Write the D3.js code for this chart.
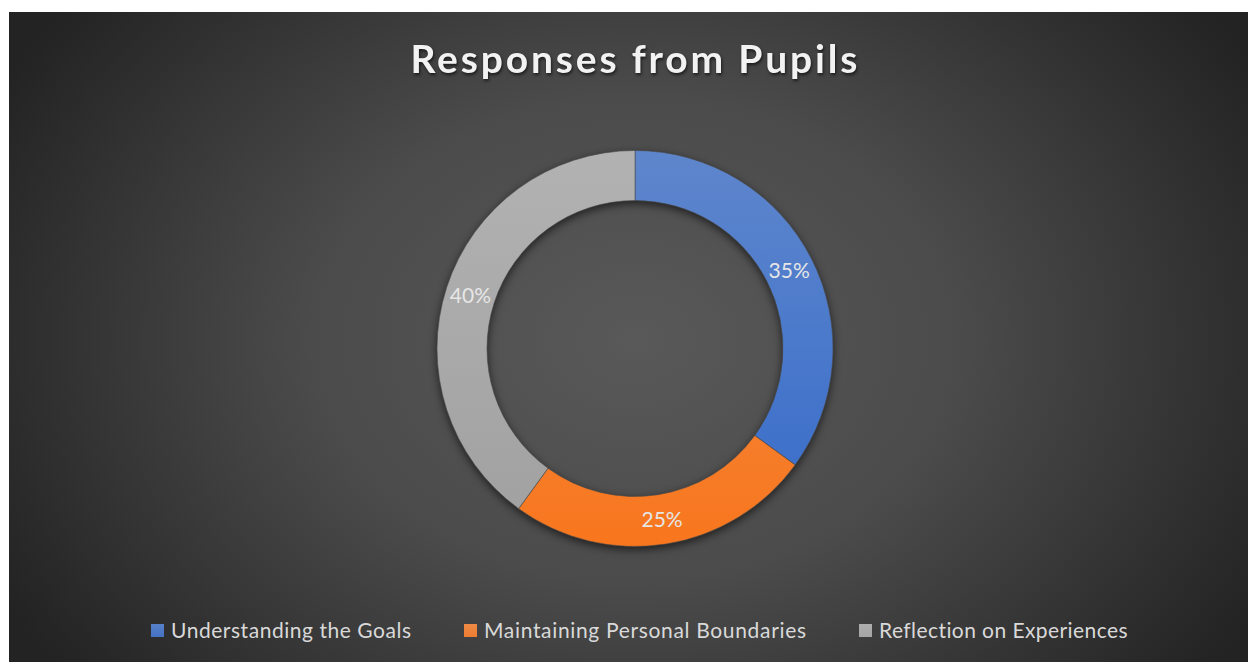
<!DOCTYPE html>
<html>
<head>
<meta charset="utf-8">
<script src="https://cdn.jsdelivr.net/npm/d3@7/dist/d3.min.js"></script>
<style>
  html, body { margin: 0; padding: 0; background: #ffffff; }
  svg { display: block; }
</style>
</head>
<body>
<svg id="chart" width="1248" height="662"></svg>
<script>
// Chart data
const title = "Responses from Pupils";
const categories = ["Understanding the Goals", "Maintaining Personal Boundaries", "Reflection on Experiences"];
const values = [35, 25, 40];
const labels = ["35%", "25%", "40%"];
const colors = ["#4472C4", "#ED7D31", "#A5A5A5"];

const W = 1248, H = 662;
const svg = d3.select("#chart");
const defs = svg.append("defs");

// Spread a text element's letters so it spans the given width
function fitWidth(sel, target) {
  const n = sel.text().length;
  const w = sel.node().getComputedTextLength();
  const ls = (target - w) / (n - 1);
  sel.attr("letter-spacing", ls);
  return ls;
}

// Dark radial background
const bg = defs.append("radialGradient").attr("id", "bgGrad")
  .attr("gradientUnits", "userSpaceOnUse")
  .attr("cx", 635).attr("cy", 340).attr("r", 720)
  .attr("gradientTransform", "translate(635,340) scale(1,0.75) translate(-635,-340)");
bg.append("stop").attr("offset", "0%").attr("stop-color", "#595959");
bg.append("stop").attr("offset", "45%").attr("stop-color", "#4b4b4b");
bg.append("stop").attr("offset", "100%").attr("stop-color", "#232323");

svg.append("rect").attr("x", 9).attr("y", 12).attr("width", W - 9).attr("height", H - 12)
  .attr("fill", "url(#bgGrad)");

// Slice gradients: lighter at the top, a richer tone at the bottom
colors.forEach((c, i) => {
  const g = defs.append("linearGradient").attr("id", "slice" + i)
    .attr("gradientUnits", "userSpaceOnUse")
    .attr("x1", 0).attr("y1", -200).attr("x2", 0).attr("y2", 200);
  const deep = d3.hsl(c);
  deep.s = Math.min(1, deep.s * 1.12);
  deep.l = deep.l * 0.97;
  g.append("stop").attr("offset", "0%").attr("stop-color", d3.interpolateRgb(c, "#ffffff")(0.14));
  g.append("stop").attr("offset", "100%").attr("stop-color", deep.formatHex());
});

// Shadow for ring and title
const sh = defs.append("filter").attr("id", "ringShadow")
  .attr("color-interpolation-filters", "sRGB")
  .attr("x", "-20%").attr("y", "-20%").attr("width", "140%").attr("height", "140%");
sh.append("feDropShadow").attr("dx", 0).attr("dy", 3).attr("stdDeviation", 4)
  .attr("flood-color", "#000").attr("flood-opacity", 0.6);

const ts = defs.append("filter").attr("id", "titleShadow")
  .attr("color-interpolation-filters", "sRGB")
  .attr("x", "-10%").attr("y", "-30%").attr("width", "120%").attr("height", "160%");
ts.append("feDropShadow").attr("dx", 1).attr("dy", 2).attr("stdDeviation", 1.5)
  .attr("flood-color", "#000").attr("flood-opacity", 0.6);

// Title, spaced out to its full width
const titleText = svg.append("text")
  .attr("x", 634).attr("y", 73)
  .attr("text-anchor", "middle")
  .attr("font-family", "Lato, 'Open Sans', sans-serif")
  .attr("font-weight", "bold")
  .attr("font-size", 39)
  .attr("fill", "#f2f2f2")
  .attr("filter", "url(#titleShadow)")
  .text(title);
{
  const ls = fitWidth(titleText, 447);
  titleText.attr("x", 634 + ls / 2);
}

// Donut
const cx = 635, cy = 348.5, outerR = 198, innerR = 148;
const pie = d3.pie().sort(null).value(d => d)(values);
const arc = d3.arc().innerRadius(innerR).outerRadius(outerR);

const ring = svg.append("g").attr("transform", `translate(${cx},${cy})`);
ring.append("g").attr("filter", "url(#ringShadow)")
  .selectAll("path").data(pie).enter().append("path")
  .attr("d", arc)
  .attr("fill", (d, i) => `url(#slice${i})`)
  .attr("stroke", "#4a4a4a").attr("stroke-width", 0.6);

ring.selectAll("text.pct").data(pie).enter().append("text")
  .attr("class", "pct")
  .attr("transform", d => `translate(${arc.centroid(d)})`)
  .attr("text-anchor", "middle")
  .attr("dy", "0.36em")
  .attr("font-family", "Lato, 'Open Sans', sans-serif")
  .attr("font-size", 21)
  .attr("fill", "#e6e6e6")
  .text((d, i) => labels[i]);

// Legend
const legendX = [151, 464, 859];
const legendW = [240, 322, 249];
const legend = svg.append("g");
categories.forEach((name, i) => {
  const lg = defs.append("linearGradient").attr("id", "legSw" + i).attr("x1", 0).attr("y1", 0).attr("x2", 0).attr("y2", 1);
  lg.append("stop").attr("offset", "0%").attr("stop-color", d3.interpolateRgb(colors[i], "#ffffff")(0.1));
  lg.append("stop").attr("offset", "100%").attr("stop-color", colors[i]);
  const g = legend.append("g").attr("transform", `translate(${legendX[i]},624)`);
  g.append("rect").attr("width", 13).attr("height", 13)
    .attr("fill", `url(#legSw${i})`);
  const t = g.append("text").attr("x", 20).attr("y", 14)
    .attr("font-family", "Lato, 'Open Sans', sans-serif")
    .attr("font-size", 21)
    .attr("fill", "#d9d9d9")
    .text(name);
  fitWidth(t, legendW[i]);
});
</script>
</body>
</html>
